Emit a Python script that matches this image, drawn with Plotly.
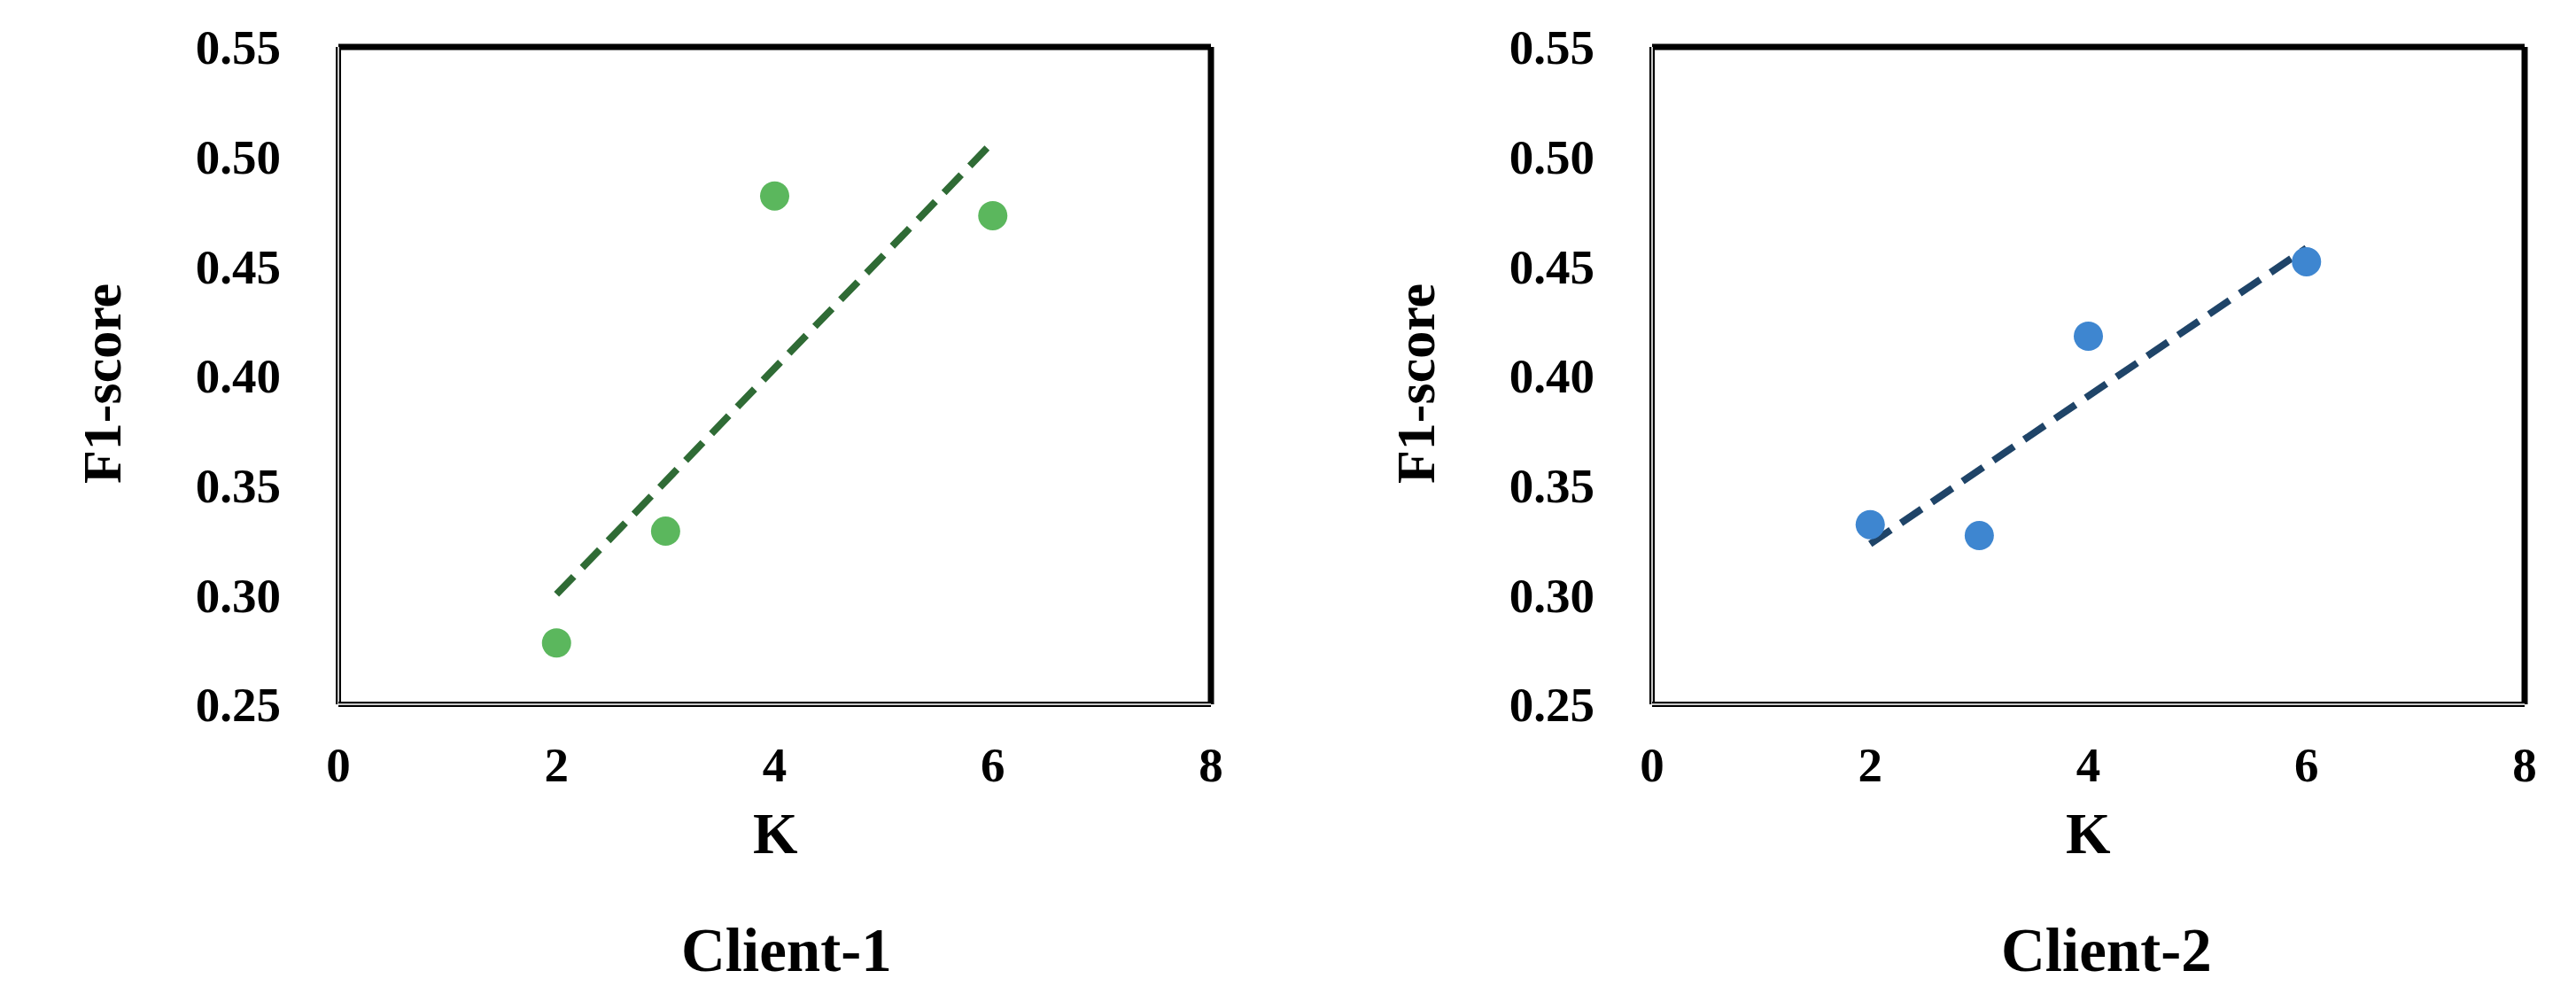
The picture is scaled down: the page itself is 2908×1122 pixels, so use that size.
import numpy as np
import plotly.graph_objects as go
from plotly.subplots import make_subplots

W, H = 2908, 1122
OFF = 8  # default body margin of the page
FW, FH = W - 2 * OFF, H - 2 * OFF
FONT = "Liberation Serif"

k_values = [2, 3, 4, 6]
f1_client1 = [0.278, 0.329, 0.482, 0.473]
f1_client2 = [0.332, 0.327, 0.418, 0.452]
panel_titles = ["Client-1", "Client-2"]
x_ticks = [0, 2, 4, 6, 8]
y_ticks = [0.25, 0.30, 0.35, 0.40, 0.45, 0.50, 0.55]

MARKER_COLORS = ["#5BB75D", "#3E86D0"]
TREND_COLORS = ["#2F6B35", "#1F4468"]


def px(x):
    return (x - OFF) / FW


def py(y):
    return 1 - (y - OFF) / FH


fig = make_subplots(rows=1, cols=2)

for i, ys in enumerate([f1_client1, f1_client2]):
    col = i + 1
    # linear trendline like the spreadsheet one, from the data itself
    slope, icpt = np.polyfit(k_values, ys, 1)
    tx = [min(k_values), max(k_values)]
    ty = [slope * v + icpt for v in tx]
    fig.add_trace(go.Scatter(x=tx, y=ty, mode="lines",
                             line=dict(color=TREND_COLORS[i], width=8, dash="28px,14px"),
                             showlegend=False, hoverinfo="skip"), row=1, col=col)
    fig.add_trace(go.Scatter(x=k_values, y=ys, mode="markers",
                             marker=dict(color=MARKER_COLORS[i], size=33),
                             showlegend=False), row=1, col=col)

x_domains = [[px(382), px(1367)], [px(1865), px(2850)]]
y_domain = [py(795), py(53)]

tickfont = dict(family=FONT, size=55, color="black", weight="bold")

for i in range(2):
    xa = "xaxis" if i == 0 else "xaxis2"
    ya = "yaxis" if i == 0 else "yaxis2"
    fig.update_layout({
        xa: dict(domain=x_domains[i], range=[0, 8], tickvals=x_ticks,
                 showgrid=False, zeroline=False, showline=False, ticks="",
                 ticklabelstandoff=31, automargin=False, tickfont=tickfont),
        ya: dict(domain=y_domain, range=[0.25, 0.55], tickvals=y_ticks, tickformat=".2f",
                 showgrid=False, zeroline=False, showline=False, ticks="",
                 ticklabelstandoff=64, automargin=False, tickfont=tickfont),
    })

    xr = "x domain" if i == 0 else "x2 domain"
    yr = "y domain" if i == 0 else "y2 domain"
    # frame: heavy black top/right, grey-cored left/bottom
    fig.add_shape(type="line", xref=xr, yref=yr, x0=0, x1=1, y0=1, y1=1,
                  line=dict(color="black", width=7))
    fig.add_shape(type="line", xref=xr, yref=yr, x0=1, x1=1, y0=0, y1=1,
                  line=dict(color="black", width=7))
    for x0, x1, y0, y1 in [(0, 0, 0, 1), (0, 1, 0, 0)]:
        fig.add_shape(type="line", xref=xr, yref=yr, x0=x0, x1=x1, y0=y0, y1=y1,
                      line=dict(color="black", width=6))
        fig.add_shape(type="line", xref=xr, yref=yr, x0=x0, x1=x1, y0=y0, y1=y1,
                      line=dict(color="#C8C8C8", width=2))

bold = lambda s: "<b>" + s + "</b>"
ann = []
for i, t in enumerate(panel_titles):
    ann.append(dict(text=bold("K"), x=px([875, 2357][i]), y=py(941),
                    xref="paper", yref="paper",
                    showarrow=False, xanchor="center", yanchor="middle",
                    font=dict(family=FONT, size=65, color="black")))
    ann.append(dict(text=bold("F1-score"), x=px([115, 1598][i]), y=py(433),
                    xref="paper", yref="paper", textangle=-90, showarrow=False,
                    xanchor="center", yanchor="middle",
                    font=dict(family=FONT, size=62, color="black")))
    ann.append(dict(text=bold(t), x=px([888, 2378][i]), y=py(1073),
                    xref="paper", yref="paper", showarrow=False,
                    xanchor="center", yanchor="middle",
                    font=dict(family=FONT, size=69, color="black")))

fig.update_layout(
    width=FW, height=FH,
    margin=dict(l=0, r=0, t=0, b=0),
    paper_bgcolor="white", plot_bgcolor="white",
    font=dict(family=FONT, color="black"),
    annotations=ann,
    showlegend=False,
)

fig.write_html("out.html")
